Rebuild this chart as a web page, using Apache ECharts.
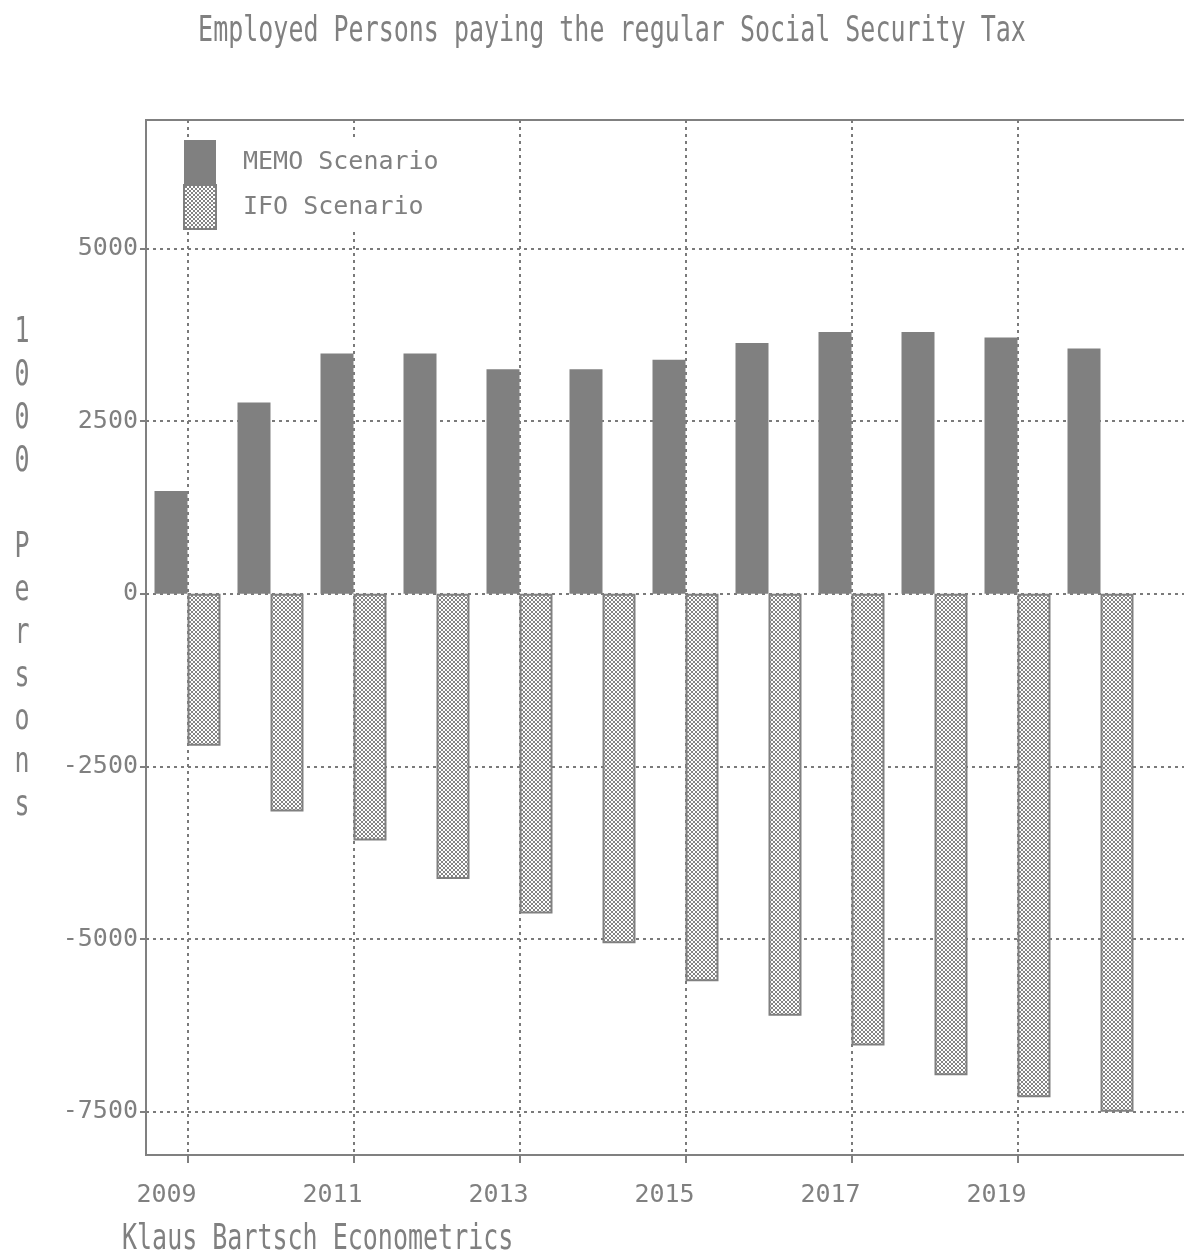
<!DOCTYPE html>
<html>
<head>
<meta charset="utf-8">
<script src="https://cdn.jsdelivr.net/npm/echarts@6/dist/echarts.min.js"></script>
<style>
  html, body { margin: 0; padding: 0; background: #ffffff; }
  #chart { width: 1184px; height: 1257px; }
</style>
</head>
<body>
<div id="chart"></div>
<script>
// Employment effect per year, in 1000 persons
const years = [2009, 2010, 2011, 2012, 2013, 2014, 2015, 2016, 2017, 2018, 2019, 2020];
const memoScenario = [1490, 2770, 3480, 3480, 3250, 3250, 3390, 3630, 3790, 3790, 3710, 3550];
const ifoScenario = [-2200, -3150, -3570, -4130, -4630, -5060, -5610, -6110, -6540, -6970, -7290, -7500];

// Axis tick labels
const yearTicks = [2009, 2011, 2013, 2015, 2017, 2019];
const valueTicks = [-7500, -5000, -2500, 0, 2500, 5000];

const GREY = '#808080';
const FONT = '"DejaVu Sans Mono", "Liberation Mono", monospace';

// small cross-hatch tile used for the IFO bars
function crossHatch() {
  const c = document.createElement('canvas');
  c.width = 4; c.height = 4;
  const g = c.getContext('2d');
  g.fillStyle = '#ffffff';
  g.fillRect(0, 0, 4, 4);
  g.fillStyle = '#848484';
  [[0, 0], [3, 0], [1, 1], [2, 1], [1, 2], [2, 2], [0, 3], [3, 3]]
    .forEach(([x, y]) => g.fillRect(x, y, 1, 1));
  return c;
}
const hatch = { image: crossHatch(), repeat: 'repeat' };

const chart = echarts.init(document.getElementById('chart'), null, { renderer: 'canvas' });

const dotted = { color: '#7a7a7a', width: 2, type: [3, 4] };

chart.setOption({
  backgroundColor: '#ffffff',
  animation: false,
  textStyle: { fontFamily: FONT },
  // the plot runs on past the right edge of the page
  grid: {
    left: 146, top: 120, width: 1079, height: 1035,
    outerBoundsMode: 'none',
    containLabel: false,
    show: true, borderColor: GREY, borderWidth: 2, backgroundColor: 'transparent'
  },
  legend: {
    orient: 'vertical',
    left: 183, top: 140,
    itemWidth: 32, itemHeight: 44, itemGap: 0,
    padding: 0,
    backgroundColor: '#ffffff',
    icon: 'rect',
    selectedMode: false,
    textStyle: { color: GREY, fontSize: 25, fontFamily: FONT, padding: [0, 0, 0, 22] },
    data: ['MEMO Scenario', 'IFO Scenario']
  },
  xAxis: {
    type: 'value',
    min: 2008.5, max: 2021.5,
    axisLine: { show: true, onZero: false, lineStyle: { color: GREY, width: 2 } },
    axisTick: { show: true, inside: false, length: 8, customValues: yearTicks, lineStyle: { color: GREY, width: 2 } },
    axisLabel: {
      customValues: yearTicks, color: GREY, fontSize: 25, fontFamily: FONT,
      margin: 28, padding: [0, 42, 0, 0],
      formatter: v => String(v)
    },
    splitLine: { show: true, lineStyle: dotted }
  },
  yAxis: {
    type: 'value',
    min: -8125, max: 6860,
    axisLine: { show: true, onZero: false, lineStyle: { color: GREY, width: 2 } },
    axisTick: { show: true, inside: false, length: 6, customValues: valueTicks, lineStyle: { color: GREY, width: 2 } },
    axisLabel: {
      customValues: valueTicks, color: GREY, fontSize: 25, fontFamily: FONT, margin: 8,
      formatter: v => String(v)
    },
    splitLine: { show: true, lineStyle: dotted }
  },
  graphic: [
    {
      type: 'text', x: 612, y: 32, scaleY: 1.4,
      style: { text: 'Employed Persons paying the regular Social Security Tax',
               font: '25px ' + FONT, fill: GREY, textAlign: 'center', textVerticalAlign: 'middle' }
    },
    {
      type: 'text', x: 22, y: 311.5, scaleY: 1.4,
      style: { text: '1\n0\n0\n0\n\nP\ne\nr\ns\no\nn\ns', lineHeight: 30.7,
               font: '25px ' + FONT, fill: GREY, textAlign: 'center', textVerticalAlign: 'top' }
    },
    {
      type: 'text', x: 122, y: 1240, scaleY: 1.4,
      style: { text: 'Klaus Bartsch Econometrics',
               font: '25px ' + FONT, fill: GREY, textAlign: 'left', textVerticalAlign: 'middle' }
    }
  ],
  series: [
    {
      name: 'MEMO Scenario',
      type: 'bar',
      barWidth: 33,
      barGap: '0%',
      itemStyle: { color: GREY },
      data: years.map((y, i) => [y, memoScenario[i]])
    },
    {
      name: 'IFO Scenario',
      type: 'bar',
      barWidth: 33,
      barGap: '0%',
      itemStyle: { color: hatch, borderColor: GREY, borderWidth: 2 },
      data: years.map((y, i) => [y, ifoScenario[i]])
    }
  ]
});
</script>
</body>
</html>
